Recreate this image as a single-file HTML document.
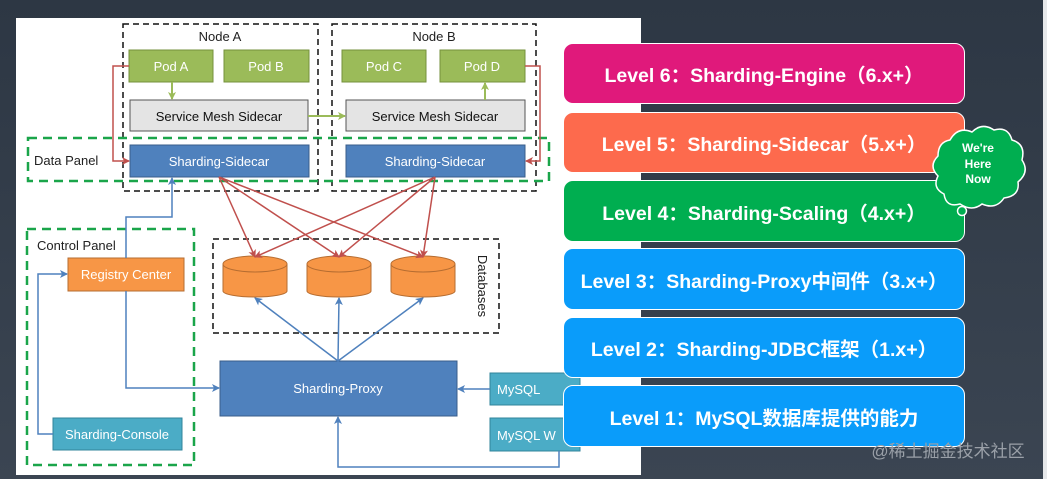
<!DOCTYPE html>
<html><head><meta charset="utf-8"><style>
html,body{margin:0;padding:0;background:#2f3a47;}
.wrap{position:relative;width:1047px;height:479px;overflow:hidden;background:linear-gradient(#2d3744,#3b4552);}
.lv{position:absolute;left:563px;width:402px;border:1.5px solid #fff;border-radius:10px;color:#fff;font:bold 19.5px "Liberation Sans","Noto Sans CJK SC",sans-serif;display:flex;align-items:center;justify-content:center;box-sizing:border-box;white-space:nowrap;}
</style></head><body><div class="wrap">
<div style="position:absolute;left:16px;top:18px;width:625px;height:457px;background:#fff"></div>
<div style="position:absolute;left:1043px;top:0;width:4px;height:479px;background:#e6e8ea"></div>
<svg width="1047" height="479" style="position:absolute;left:0;top:0" font-family="Liberation Sans, sans-serif">
<defs>
<marker id="ar" markerWidth="8" markerHeight="8" refX="7" refY="4" orient="auto" markerUnits="userSpaceOnUse"><path d="M0,0 L8,4 L0,8 L2,4z" fill="#c0504d"/></marker>
<marker id="ab" markerWidth="8" markerHeight="8" refX="7" refY="4" orient="auto" markerUnits="userSpaceOnUse"><path d="M0,0 L8,4 L0,8 L2,4z" fill="#4f81bd"/></marker>
<marker id="ag" markerWidth="8" markerHeight="8" refX="7" refY="4" orient="auto" markerUnits="userSpaceOnUse"><path d="M0,0 L8,4 L0,8 L2,4z" fill="#9bbb59"/></marker>
</defs>
<g fill="none" stroke="#111" stroke-width="1.5" stroke-dasharray="6,4">
<rect x="123" y="24" width="195" height="167"/><rect x="332" y="24" width="204" height="167"/>
<rect x="213" y="239" width="286" height="94"/>
</g>
<g fill="none" stroke="#1aa54a" stroke-width="2.5" stroke-dasharray="9,6">
<rect x="28" y="138" width="521" height="43"/><rect x="27" y="229" width="167" height="236"/>
</g>
<g font-size="13" fill="#222"><text x="220" y="41" text-anchor="middle">Node A</text><text x="434" y="41" text-anchor="middle">Node B</text>
<text x="34" y="165">Data Panel</text><text x="37" y="250">Control Panel</text>
<text x="478" y="286" transform="rotate(90 478 286)" text-anchor="middle">Databases</text></g>
<g stroke="#76923c" fill="#9bbb59"><rect x="129" y="50" width="84" height="32"/><rect x="224" y="50" width="85" height="32"/><rect x="342" y="50" width="84" height="32"/><rect x="440" y="50" width="85" height="32"/></g>
<g fill="#fff" font-size="13" text-anchor="middle"><text x="171" y="71">Pod A</text><text x="266" y="71">Pod B</text><text x="384" y="71">Pod C</text><text x="482" y="71">Pod D</text></g>
<g stroke="#555" fill="#e4e4e4"><rect x="130" y="100" width="178" height="31"/><rect x="346" y="100" width="179" height="31"/></g>
<g fill="#111" font-size="13" text-anchor="middle"><text x="219" y="121">Service Mesh Sidecar</text><text x="435" y="121">Service Mesh Sidecar</text></g>
<g stroke="#385d8a" fill="#4f81bd"><rect x="130" y="145" width="179" height="32"/><rect x="346" y="145" width="179" height="32"/><rect x="220" y="361" width="237" height="55"/></g>
<g stroke="#b66d31" fill="#f79646"><rect x="68" y="258" width="116" height="33"/></g>
<g stroke="#31849b" fill="#4bacc6"><rect x="53" y="418" width="129" height="32"/><rect x="490" y="373" width="90" height="32"/><rect x="490" y="418" width="90" height="33"/></g>
<g fill="#fff" font-size="13" text-anchor="middle"><text x="219" y="166">Sharding-Sidecar</text><text x="435" y="166">Sharding-Sidecar</text>
<text x="126" y="279">Registry Center</text><text x="117" y="439">Sharding-Console</text><text x="338" y="393">Sharding-Proxy</text>
<text x="497" y="394" text-anchor="start">MySQL</text><text x="497" y="440" text-anchor="start">MySQL W</text></g>
<g fill="#f79646" stroke="#b66d31">
<path d="M223,264 v27 a32,6 0 0 0 64,0 v-27"/><ellipse cx="255" cy="264" rx="32" ry="8"/>
<path d="M307,264 v27 a32,6 0 0 0 64,0 v-27"/><ellipse cx="339" cy="264" rx="32" ry="8"/>
<path d="M391,264 v27 a32,6 0 0 0 64,0 v-27"/><ellipse cx="423" cy="264" rx="32" ry="8"/>
</g>
<g stroke="#c0504d" stroke-width="1.5" fill="none" marker-end="url(#ar)">
<line x1="219" y1="177" x2="255" y2="257"/><line x1="219" y1="177" x2="339" y2="257"/><line x1="219" y1="177" x2="423" y2="257"/>
<line x1="435" y1="177" x2="255" y2="257"/><line x1="435" y1="177" x2="339" y2="257"/><line x1="435" y1="177" x2="423" y2="257"/>
<polyline points="129,66 113,66 113,161 129,161"/><polyline points="525,66 540,66 540,161 526,161"/>
</g>
<g stroke="#4f81bd" stroke-width="1.5" fill="none" marker-end="url(#ab)">
<polyline points="126,258 126,217 172,217 172,178"/><polyline points="126,291 126,388 219,388"/>
<polyline points="53,434 38,434 38,274 67,274"/>
<line x1="338" y1="361" x2="255" y2="298"/><line x1="338" y1="361" x2="339" y2="298"/><line x1="338" y1="361" x2="423" y2="298"/>
<line x1="490" y1="389" x2="458" y2="389"/><polyline points="559,451 559,467 338,467 338,417"/>
</g>
<g stroke="#9bbb59" stroke-width="2" fill="none" marker-end="url(#ag)">
<line x1="172" y1="82" x2="172" y2="99"/><line x1="308" y1="116" x2="345" y2="116"/><line x1="485" y1="100" x2="485" y2="83"/>
</g>
</svg>
<div class="lv" style="top:43px;height:61px;background:#e0197b">Level 6：Sharding-Engine（6.x+）</div>
<div class="lv" style="top:112px;height:61px;background:#fd6a4d">Level 5：Sharding-Sidecar（5.x+）</div>
<div class="lv" style="top:180px;height:62px;background:#00ae50">Level 4：Sharding-Scaling（4.x+）</div>
<div class="lv" style="top:248px;height:62px;background:#0a9cfa">Level 3：Sharding-Proxy中间件（3.x+）</div>
<div class="lv" style="top:317px;height:61px;background:#0a9cfa">Level 2：Sharding-JDBC框架（1.x+）</div>
<div class="lv" style="top:385px;height:62px;background:#0a9cfa">Level 1：MySQL数据库提供的能力</div>
<svg width="1047" height="479" style="position:absolute;left:0;top:0">
<g fill="#00ae50" stroke="#fff" stroke-width="1.5">
<path d="M950,140 q8,-14 22,-8 q10,-10 22,-2 q14,-4 18,10 q14,4 10,20 q8,12 -4,22 q2,14 -14,16 q-8,12 -22,6 q-10,8 -22,0 q-14,4 -16,-10 q-12,-6 -6,-18 q-10,-10 0,-20 q0,-14 12,-16z"/>
<circle cx="962" cy="211" r="4.5"/>
</g>
<g fill="#fff" font-family="Liberation Sans, sans-serif" font-weight="bold" font-size="12" text-anchor="middle">
<text x="978" y="152">We're</text><text x="978" y="168">Here</text><text x="978" y="183">Now</text></g>
<text x="948" y="457" text-anchor="middle" fill="#9aa0a8" font-size="17" font-family="Liberation Sans, Noto Sans CJK SC, sans-serif">@稀土掘金技术社区</text>
</svg>
</div></body></html>
